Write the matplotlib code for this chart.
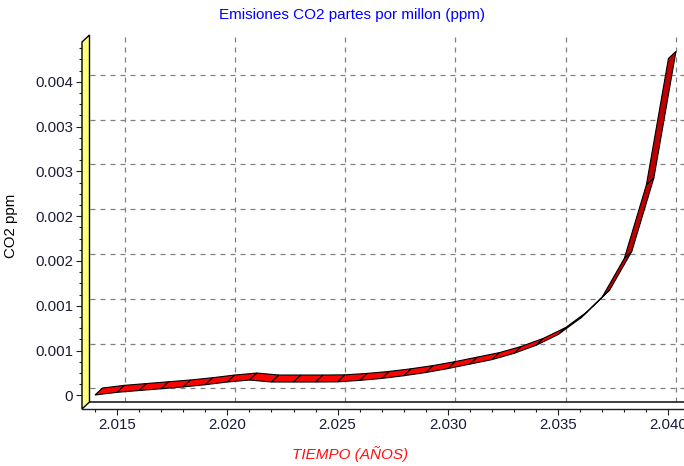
import matplotlib
matplotlib.use("Agg")
import matplotlib.pyplot as plt
from matplotlib.patches import Polygon
from matplotlib.transforms import ScaledTranslation, IdentityTransform
import numpy as np

# ---- data ----
years = [2014, 2015, 2016, 2017, 2018, 2019, 2020, 2021, 2022, 2023, 2024, 2025, 2026,
         2027, 2028, 2029, 2030, 2031, 2032, 2033, 2034, 2035, 2036, 2037, 2038, 2039, 2040]
co2 = [0.000005, 0.000035, 0.000055, 0.000075, 0.000095, 0.00012, 0.00015, 0.000172,
       0.00015, 0.00015, 0.00015, 0.000152, 0.000168, 0.00019, 0.00022, 0.000256, 0.0003,
       0.00035, 0.0004, 0.00047, 0.00056, 0.00068, 0.00086, 0.0011, 0.00153, 0.00235, 0.00376]
x_ticks = [2015, 2020, 2025, 2030, 2035, 2040]
x_tick_labels = ["2.015", "2.020", "2.025", "2.030", "2.035", "2.040"]
y_ticks = [0, 0.0005, 0.001, 0.0015, 0.002, 0.0025, 0.003, 0.0035]
y_tick_labels = ["0", "0.001", "0.001", "0.002", "0.002", "0.003", "0.003", "0.004"]
x_minor = list(range(2014, 2041))
y_minor = list(np.arange(0, 0.0039, 0.000125))

title = "Emisiones CO2 partes por millon (ppm)"
xlabel = "TIEMPO (AÑOS)"
ylabel = "CO2 ppm"

plt.rcParams["font.family"] = ["Liberation Sans", "DejaVu Sans"]

W, H = 684, 466
fig = plt.figure(figsize=(W / 100, H / 100), dpi=100)
left_px, right_px, bottom_px, top_px = 82, 685, 409, 42
ax = fig.add_axes([left_px / W, (H - bottom_px) / H, (right_px - left_px) / W, (bottom_px - top_px) / H])
xmin, xmax = 2013.41, 2040.75
ymin, ymax = -0.000151, 0.003943
ax.set_xlim(xmin, xmax)
ax.set_ylim(ymin, ymax)
ax.patch.set_alpha(0)

DX, DY = 7.5, 7.0  # depth offset in pixels
back = ax.transData + ScaledTranslation(DX / 100, DY / 100, fig.dpi_scale_trans)

grid_kw = dict(color="#808080", lw=0.9, linestyle=(0, (4, 4)), transform=back, clip_on=False, zorder=1)
for yv in y_ticks:
    ax.plot([xmin, xmax], [yv, yv], **grid_kw)
for xv in x_ticks:
    ax.plot([xv, xv], [ymin, ymax], **grid_kw)

# floor back edge
ax.plot([xmin, xmax], [ymin, ymin], color="#303030", lw=1.3, transform=back, clip_on=False, zorder=2)

# left wall
T = ax.transData
fb = T.transform((xmin, ymin))
ft = T.transform((xmin, ymax))
wall = np.array([fb, ft, ft + [DX, DY], fb + [DX, DY]])
ax.add_patch(Polygon(wall, closed=True, facecolor="#ffff80", edgecolor="black", lw=1.0,
                     transform=IdentityTransform(), clip_on=False, zorder=3))

# 3D ribbon
pts = T.transform(np.column_stack([years, co2]))
depth_slope = DY / DX
for i in range(len(pts) - 1):
    p0, p1 = pts[i], pts[i + 1]
    quad = np.array([p0, p1, p1 + [DX, DY], p0 + [DX, DY]])
    slope = (p1[1] - p0[1]) / (p1[0] - p0[0])
    fc = "#c00000" if slope > depth_slope else "#ff0000"
    ax.add_patch(Polygon(quad, closed=True, facecolor=fc, edgecolor="black", lw=0.8,
                         transform=IdentityTransform(), clip_on=False, zorder=5))

# axes styling
for s in ["top", "right", "left"]:
    ax.spines[s].set_visible(False)
ax.spines["bottom"].set_color("#202020")
ax.spines["bottom"].set_linewidth(1.0)
ax.set_xticks(x_ticks)
ax.set_xticklabels(x_tick_labels)
ax.set_yticks(y_ticks)
ax.set_yticklabels(y_tick_labels)
ax.set_xticks(x_minor, minor=True)
ax.set_yticks(y_minor, minor=True)
tick_col = "#1a1a3a"
ax.tick_params(axis="both", which="major", direction="out", length=4, width=0.8,
               colors="#202020", labelcolor=tick_col, labelsize=10.8, pad=2.5)
ax.tick_params(axis="both", which="minor", direction="out", length=2.2, width=0.8, colors="#202020")

ax.set_ylabel(ylabel, fontsize=10.8, color="black")
ax.yaxis.set_label_coords((18 - left_px) / (right_px - left_px), 0.5)

fig.text(352 / W, 1 - 15 / H, title, color="#0000ff", fontsize=11, ha="center", va="center")
fig.text(350 / W, 1 - 454 / H, xlabel, color="#ff1010", fontsize=11, style="italic",
         ha="center", va="center")

fig.savefig("out.png", dpi=100)
